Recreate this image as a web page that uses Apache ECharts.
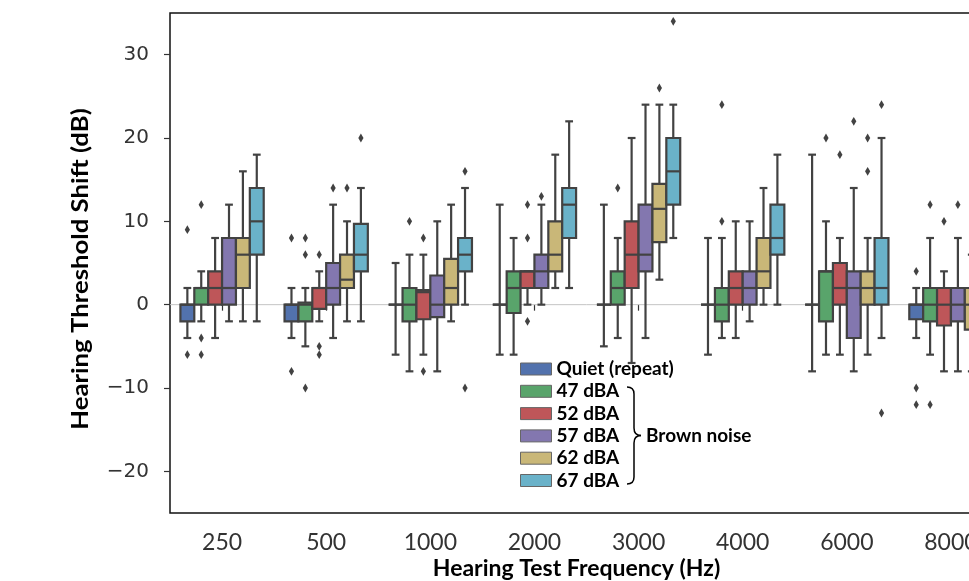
<!DOCTYPE html>
<html>
<head>
<meta charset="utf-8">
<script src="https://cdn.jsdelivr.net/npm/echarts@6/dist/echarts.min.js"></script>
<style>
html,body{margin:0;padding:0;overflow:hidden;background:#fff;width:969px;height:581px;}
#chart{width:1010px;height:581px;}
</style>
</head>
<body>
<div id="chart"></div>
<script>
// ---- data ----
const frequencies = ['250', '500', '1000', '2000', '3000', '4000', '6000', '8000'];
const groupNames = ['Quiet (repeat)', '47 dBA', '52 dBA', '57 dBA', '62 dBA', '67 dBA'];
const yTicks = [-20, -10, 0, 10, 20, 30];

// [whiskerLow, q1, median, q3, whiskerHigh] per frequency
const quietBoxes = [
  [-4, -2, 0, 0, 2], [-4, -2, 0, 0, 2], [-6, 0, 0, 0, 5], [-6, 0, 0, 0, 12],
  [-5, 0, 0, 0, 12], [-6, 0, 0, 0, 8], [-8, 0, 0, 0, 18], [-4, -1.75, 0, 0, 2]
];
const dba47Boxes = [
  [-2, 0, 2, 2, 4], [-5, -2, 0, 0.25, 2], [-8, -2, 0, 2, 6], [-6, -1, 2, 4, 8],
  [-4, 0, 2, 4, 8], [-4, -2, 0, 2, 8], [-6, -2, 4, 4, 10], [-6, -2, 0, 2, 8]
];
const dba52Boxes = [
  [-4, 0, 2, 4, 8], [-2, -0.5, 2, 2, 4], [-6, -1.75, 1.5, 1.75, 6], [0, 2, 4, 4, 4],
  [-7, 2, 6, 10, 20], [-4, 0, 2, 4, 10], [-6, 0, 2, 5, 8], [-8, -2.5, 0, 2, 4]
];
const dba57Boxes = [
  [-2, 0, 2, 8, 12], [-4, 0, 2, 5, 12], [-8, -1.5, 0, 3.5, 10], [0, 2, 4, 6, 12],
  [-4, 4, 6, 12, 24], [-2, 0, 2, 4, 10], [-8, -4, 2, 4, 14], [-8, -2, 0, 2, 8]
];
const dba62Boxes = [
  [-2, 2, 6, 8, 16], [-2, 2, 3, 6, 10], [-2, 0, 2, 5.5, 12], [2, 4, 6, 10, 18],
  [3, 7.5, 11.5, 14.5, 24], [0, 2, 4, 8, 14], [-6, 0, 2, 4, 8], [-8, -3, 0, 2, 6]
];
const dba67Boxes = [
  [-2, 6, 10, 14, 18], [-2, 4, 6, 9.7, 14], [0, 4, 6, 8, 14], [2, 8, 12, 14, 22],
  [8, 12, 16, 20, 24], [0, 6, 8, 12, 18], [-4, 0, 2, 8, 20], [-6, -2, 0, 4, 10]
];

// outliers: [frequencyIndex, value]
const quietOutliers = [[0, 9], [0, -6], [1, 8], [1, -8], [7, 4], [7, -10], [7, -12]];
const dba47Outliers = [[0, 12], [0, -4], [0, -6], [1, 8], [1, 6], [1, -10], [2, 10], [4, 14], [5, 24], [5, 10], [6, 20], [7, 12], [7, -12]];
const dba52Outliers = [[1, 6], [1, -5], [1, -6], [2, 8], [2, -8], [3, 12], [3, 8], [3, -2], [6, 18], [7, 10]];
const dba57Outliers = [[1, 14], [3, 13], [6, 22], [7, 12]];
const dba62Outliers = [[1, 14], [4, 26], [6, 20], [6, 16], [7, 20], [7, 12], [7, -16]];
const dba67Outliers = [[1, 20], [2, 16], [2, -10], [4, 34], [6, 24], [6, -13]];

const colors = ['#5272AD', '#59A46B', '#BE5659', '#8377AF', '#C9B778', '#6AB2C9'];
const allBoxes = [quietBoxes, dba47Boxes, dba52Boxes, dba57Boxes, dba62Boxes, dba67Boxes];
const allOutliers = [quietOutliers, dba47Outliers, dba52Outliers, dba57Outliers, dba62Outliers, dba67Outliers];

const STROKE = '#424242';
const NH = groupNames.length;

function boxRender(h) {
  return function (params, api) {
    const cat = api.value(0);
    const band = api.size([1, 0])[0];
    const bw = band * 0.8 / NH;
    const cx = api.coord([cat, 0])[0] + (h - (NH - 1) / 2) * bw;
    const y = v => api.coord([cat, v])[1];
    const yMin = y(api.value(1)), yQ1 = y(api.value(2)), yMed = y(api.value(3)),
          yQ3 = y(api.value(4)), yMax = y(api.value(5));
    const cap = bw * 0.28;
    const ls = {stroke: STROKE, lineWidth: 2.2};
    return {
      type: 'group',
      children: [
        {type: 'line', shape: {x1: cx, y1: yQ3, x2: cx, y2: yMax}, style: ls},
        {type: 'line', shape: {x1: cx, y1: yQ1, x2: cx, y2: yMin}, style: ls},
        {type: 'line', shape: {x1: cx - cap, y1: yMax, x2: cx + cap, y2: yMax}, style: ls},
        {type: 'line', shape: {x1: cx - cap, y1: yMin, x2: cx + cap, y2: yMin}, style: ls},
        {type: 'rect', shape: {x: cx - bw / 2, y: yQ3, width: bw, height: yQ1 - yQ3},
         style: {fill: colors[h], stroke: STROKE, lineWidth: 2.2}},
        {type: 'line', shape: {x1: cx - bw / 2, y1: yMed, x2: cx + bw / 2, y2: yMed}, style: ls}
      ]
    };
  };
}

function outlierRender(h) {
  return function (params, api) {
    const cat = api.value(0);
    const band = api.size([1, 0])[0];
    const bw = band * 0.8 / NH;
    const p = api.coord([cat, api.value(1)]);
    const cx = p[0] + (h - (NH - 1) / 2) * bw, cy = p[1];
    const hw = 2.6, hh = 4.4;
    return {
      type: 'polygon',
      shape: {points: [[cx, cy - hh], [cx + hw, cy], [cx, cy + hh], [cx - hw, cy]]},
      style: {fill: STROKE}
    };
  };
}

function zeroLineRender(params, api) {
  const p = api.coord([0, 0]);
  const cs = params.coordSys;
  return {
    type: 'line',
    shape: {x1: cs.x, y1: p[1], x2: cs.x + cs.width, y2: p[1]},
    style: {stroke: '#c4c4c4', lineWidth: 1}
  };
}

const series = [{
  type: 'custom', silent: true, z: 1,
  renderItem: zeroLineRender,
  encode: {x: 0, y: 1},
  data: [[0, 0]]
}];
allBoxes.forEach((boxes, h) => {
  series.push({
    type: 'custom', name: groupNames[h], z: 3,
    itemStyle: {color: colors[h]},
    renderItem: boxRender(h),
    encode: {x: 0, y: [1, 2, 3, 4, 5]},
    data: boxes.map((b, i) => [i].concat(b))
  });
});
allOutliers.forEach((outs, h) => {
  series.push({
    type: 'custom', z: 4,
    renderItem: outlierRender(h),
    encode: {x: 0, y: 1},
    data: outs
  });
});

const braceStyle = {fill: 'none', stroke: '#000', lineWidth: 1.5};
const chart = echarts.init(document.getElementById('chart'), null, {renderer: 'canvas'});
chart.setOption({
  animation: false,
  backgroundColor: '#fff',
  grid: {left: 170, right: 7, top: 13, bottom: 68, show: true, borderColor: '#111', borderWidth: 1.5,
         backgroundColor: 'transparent', containLabel: false, outerBoundsMode: 'none'},
  legend: {
    orient: 'vertical', left: 520, top: 358, padding: 0,
    itemWidth: 31, itemHeight: 12, itemGap: 0.3, itemTextGap: 5,
    icon: 'rect',
    data: groupNames.map((n, i) => ({name: n, itemStyle: {color: colors[i], borderColor: '#666', borderWidth: 1}})),
    textStyle: {fontFamily: 'Lato', fontWeight: 'bold', fontSize: 19, color: '#000', lineHeight: 22},
    selectedMode: false
  },
  graphic: [
    {type: 'bezierCurve', shape: {x1: 627, y1: 387, cpx1: 634, cpy1: 387, x2: 634, y2: 394}, style: braceStyle, z: 10},
    {type: 'line', shape: {x1: 634, y1: 394, x2: 634, y2: 428}, style: braceStyle, z: 10},
    {type: 'bezierCurve', shape: {x1: 634, y1: 428, cpx1: 634, cpy1: 435.5, x2: 641, y2: 435.5}, style: braceStyle, z: 10},
    {type: 'bezierCurve', shape: {x1: 641, y1: 435.5, cpx1: 634, cpy1: 435.5, x2: 634, y2: 443}, style: braceStyle, z: 10},
    {type: 'line', shape: {x1: 634, y1: 443, x2: 634, y2: 477}, style: braceStyle, z: 10},
    {type: 'bezierCurve', shape: {x1: 634, y1: 477, cpx1: 634, cpy1: 484, x2: 627, y2: 484}, style: braceStyle, z: 10},
    {type: 'text', x: 646, y: 436, style: {text: 'Brown noise', font: 'bold 19px Lato', fill: '#000', align: 'left', verticalAlign: 'middle'}, z: 10},
    {type: 'text', x: 81, y: 269, rotation: Math.PI / 2, scaleX: 1.17,
     style: {text: 'Hearing Threshold Shift (dB)', font: 'bold 22px Lato', fill: '#000', align: 'center', verticalAlign: 'middle'}, z: 10}
  ],
  xAxis: {
    type: 'category', data: frequencies,
    axisLine: {show: false},
    axisTick: {show: true, alignWithLabel: true, length: 6, lineStyle: {color: '#333', width: 1.2}},
    axisLabel: {margin: 18, fontFamily: 'Lato', fontSize: 23, color: '#333'},
    splitLine: {show: false},
    name: 'Hearing Test Frequency (Hz)', nameLocation: 'middle', nameGap: 44, nameMoveOverlap: false,
    nameTextStyle: {fontFamily: 'Lato', fontWeight: 'bold', fontSize: 23, color: '#000', padding: [0, 20, 0, 0]}
  },
  yAxis: {
    type: 'value', min: -25, max: 35,
    axisLine: {show: false},
    axisTick: {show: true, length: 6, customValues: yTicks, lineStyle: {color: '#333', width: 1.2}},
    axisLabel: {margin: 21, customValues: yTicks, fontFamily: 'DejaVu Sans', fontSize: 20, color: '#333',
      formatter: v => (v < 0 ? '\u2212' + Math.abs(v) : String(v))},
    splitLine: {show: false}
  },
  series: series
});
</script>
</body>
</html>
